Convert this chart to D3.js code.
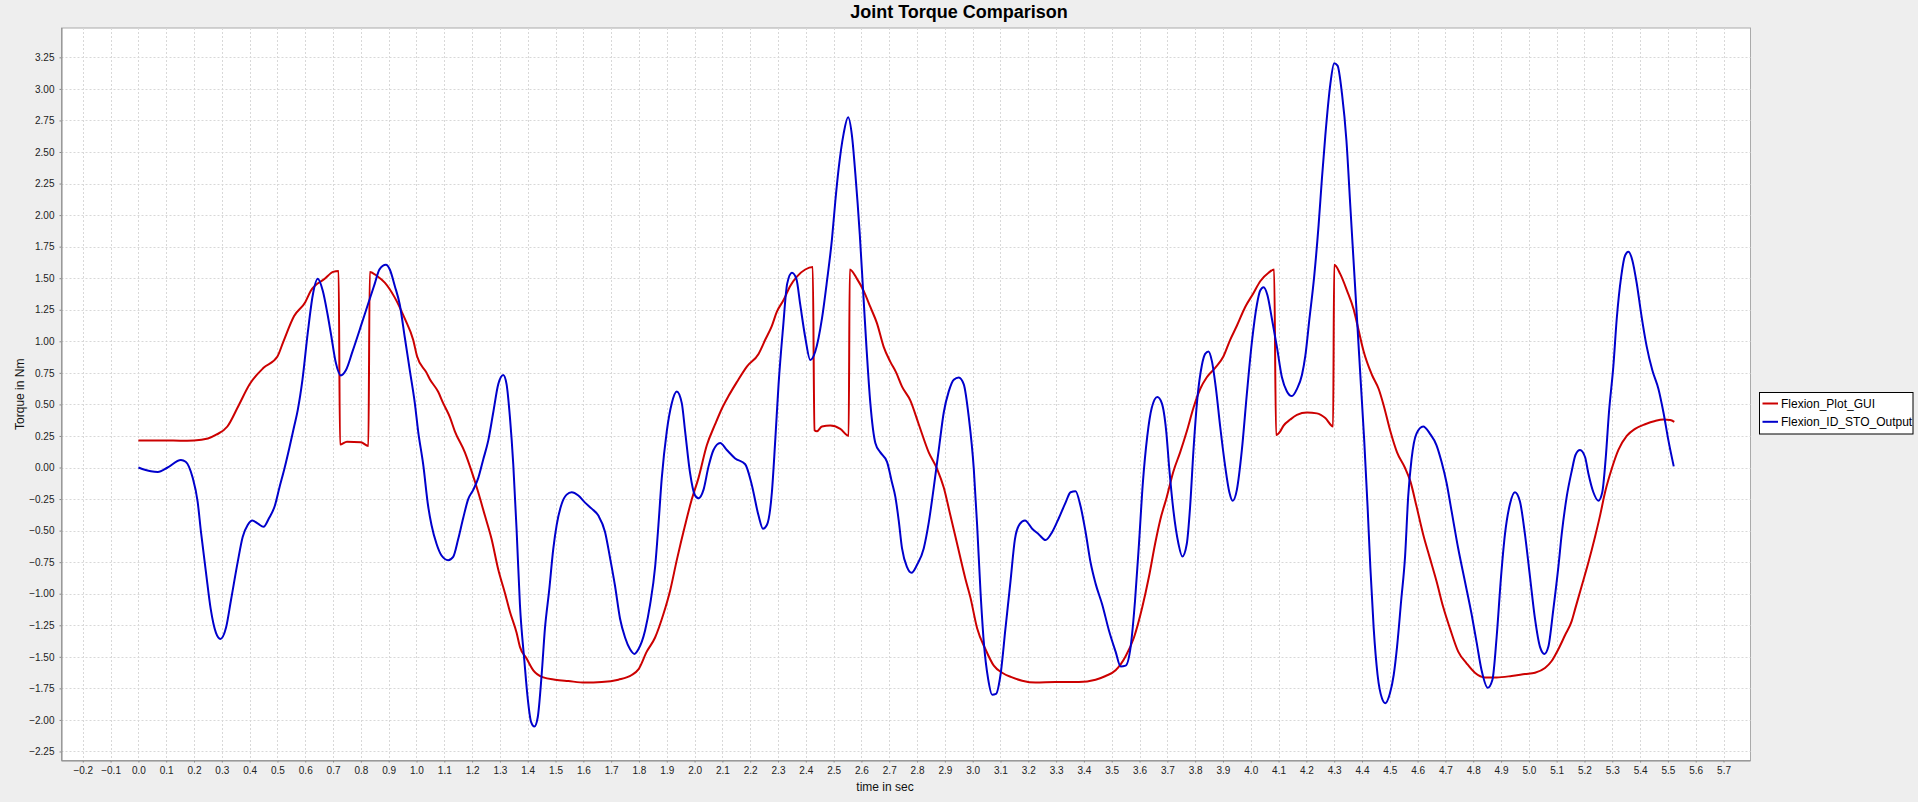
<!DOCTYPE html>
<html>
<head>
<meta charset="utf-8">
<script src="https://cdn.jsdelivr.net/npm/d3@7"></script>
<style>
html,body{margin:0;padding:0;background:#eeeeee;}
svg{display:block;font-family:"Liberation Sans",Arial,sans-serif;}
</style>
</head>
<body>
<svg id="chart" width="1918" height="802"></svg>
<script>
const chartTitle = "Joint Torque Comparison";
const xAxisLabel = "time in sec";
const yAxisLabel = "Torque in Nm";
const seriesNames = ["Flexion_Plot_GUI", "Flexion_ID_STO_Output"];
const seriesColors = ["#cc0000", "#0000cc"];
const xTickValues = d3.range(-2, 58).map(i => i / 10);
const yTickValues = d3.range(-9, 14).map(i => i / 4);

// Flexion_Plot_GUI: [time, torque]
const flexionPlotGui = [
[0.0,0.215],[0.05,0.215],[0.10,0.215],[0.15,0.213],[0.20,0.215],[0.25,0.23],[0.28,0.26],[0.32,0.325],
[0.36,0.49],[0.40,0.66],[0.45,0.79],[0.50,0.88],[0.52,0.99],[0.56,1.20],[0.60,1.31],[0.62,1.40],
[0.67,1.495],[0.70,1.55],[0.72,1.558],[0.725,0.183],[0.75,0.205],[0.80,0.20],[0.827,0.17],[0.832,1.55],
[0.86,1.514],[0.886,1.465],[0.922,1.346],[0.958,1.179],[0.988,1.012],[1.002,0.882],[1.036,0.752],[1.048,0.70],
[1.078,0.60],[1.096,0.51],[1.12,0.399],[1.138,0.287],[1.174,0.12],[1.198,-0.029],[1.222,-0.196],[1.246,-0.381],
[1.27,-0.567],[1.294,-0.808],[1.318,-0.994],[1.336,-1.143],[1.36,-1.31],[1.372,-1.421],[1.396,-1.514],[1.42,-1.607],
[1.456,-1.663],[1.498,-1.681],[1.546,-1.692],[1.606,-1.704],[1.666,-1.70],[1.726,-1.681],[1.774,-1.644],[1.798,-1.60],
[1.828,-1.459],[1.858,-1.347],[1.888,-1.161],[1.912,-0.976],[1.936,-0.734],[1.966,-0.456],[1.99,-0.251],[2.014,-0.084],
[2.044,0.176],[2.074,0.343],[2.098,0.466],[2.122,0.566],[2.152,0.677],[2.188,0.80],[2.23,0.90],[2.254,1.012],
[2.278,1.123],[2.296,1.235],[2.32,1.327],[2.344,1.439],[2.368,1.513],[2.398,1.569],[2.425,1.588],[2.431,0.295],
[2.44,0.287],[2.458,0.325],[2.488,0.332],[2.524,0.306],[2.554,0.25],[2.558,1.569],[2.584,1.495],[2.608,1.40],
[2.632,1.272],[2.656,1.142],[2.68,0.956],[2.704,0.837],[2.725,0.752],[2.746,0.641],[2.776,0.53],[2.806,0.343],
[2.842,0.12],[2.872,-0.01],[2.896,-0.159],[2.92,-0.381],[2.944,-0.604],[2.974,-0.883],[2.992,-1.031],[3.016,-1.273],
[3.046,-1.44],[3.076,-1.57],[3.106,-1.626],[3.142,-1.663],[3.178,-1.689],[3.226,-1.704],[3.298,-1.70],[3.382,-1.70],
[3.442,-1.681],[3.478,-1.652],[3.514,-1.607],[3.55,-1.496],[3.58,-1.347],[3.61,-1.106],[3.634,-0.864],[3.656,-0.604],
[3.674,-0.419],[3.698,-0.233],[3.722,-0.029],[3.746,0.12],[3.77,0.287],[3.794,0.473],[3.818,0.622],[3.842,0.715],
[3.872,0.789],[3.902,0.882],[3.926,1.012],[3.95,1.123],[3.98,1.272],[4.01,1.383],[4.034,1.476],[4.064,1.543],
[4.084,1.569],[4.091,0.258],[4.106,0.287],[4.118,0.332],[4.142,0.38],[4.166,0.417],[4.202,0.436],[4.238,0.429],
[4.268,0.392],[4.296,0.325],[4.30,1.606],[4.322,1.532],[4.346,1.402],[4.37,1.253],[4.388,1.086],[4.406,0.919],
[4.436,0.733],[4.46,0.622],[4.478,0.492],[4.502,0.287],[4.526,0.12],[4.554,0.0],[4.574,-0.11],[4.596,-0.307],
[4.62,-0.53],[4.644,-0.716],[4.668,-0.901],[4.692,-1.106],[4.716,-1.273],[4.746,-1.459],[4.776,-1.551],[4.806,-1.626],
[4.842,-1.663],[4.884,-1.663],[4.938,-1.652],[4.986,-1.637],[5.022,-1.626],[5.058,-1.589],[5.082,-1.533],[5.106,-1.44],
[5.13,-1.329],[5.154,-1.217],[5.166,-1.124],[5.19,-0.939],[5.214,-0.753],[5.238,-0.548],[5.256,-0.381],[5.274,-0.196],
[5.298,-0.01],[5.322,0.139],[5.352,0.25],[5.382,0.306],[5.418,0.343],[5.454,0.369],[5.484,0.38],[5.508,0.377],[5.523,0.362]
];

// Flexion_ID_STO_Output: [time, torque]
const flexionIdStoOutput = [
[0.0,0.0],[0.045,-0.03],[0.07,-0.035],[0.105,0.0],[0.153,0.06],[0.17,0.046],[0.195,-0.08],[0.213,-0.27],
[0.225,-0.51],[0.243,-0.83],[0.26,-1.12],[0.279,-1.31],[0.295,-1.358],[0.315,-1.27],[0.333,-1.05],[0.357,-0.75],
[0.375,-0.55],[0.393,-0.456],[0.41,-0.42],[0.43,-0.445],[0.45,-0.47],[0.47,-0.40],[0.49,-0.307],[0.507,-0.16],
[0.525,-0.01],[0.543,0.157],[0.56,0.325],[0.573,0.455],[0.59,0.696],[0.609,1.067],[0.627,1.365],[0.645,1.495],
[0.663,1.40],[0.68,1.216],[0.693,1.05],[0.71,0.83],[0.728,0.73],[0.746,0.77],[0.77,0.92],[0.80,1.12],
[0.825,1.29],[0.85,1.457],[0.867,1.57],[0.89,1.606],[0.904,1.569],[0.922,1.439],[0.94,1.29],[0.958,1.03],
[0.976,0.77],[0.994,0.51],[1.006,0.287],[1.024,0.026],[1.042,-0.307],[1.054,-0.456],[1.072,-0.604],[1.09,-0.697],
[1.114,-0.734],[1.132,-0.708],[1.15,-0.567],[1.168,-0.40],[1.186,-0.251],[1.204,-0.177],[1.222,-0.084],[1.24,0.064],
[1.258,0.213],[1.276,0.436],[1.294,0.659],[1.312,0.733],[1.324,0.659],[1.336,0.399],[1.348,0.026],[1.36,-0.493],
[1.372,-1.087],[1.388,-1.533],[1.40,-1.83],[1.412,-2.016],[1.424,-2.053],[1.436,-1.979],[1.45,-1.644],[1.462,-1.273],
[1.477,-0.976],[1.492,-0.642],[1.504,-0.456],[1.522,-0.289],[1.54,-0.215],[1.558,-0.196],[1.582,-0.222],[1.606,-0.278],
[1.63,-0.326],[1.654,-0.381],[1.678,-0.511],[1.696,-0.716],[1.714,-0.939],[1.732,-1.198],[1.75,-1.347],[1.768,-1.44],
[1.784,-1.477],[1.798,-1.44],[1.822,-1.291],[1.84,-1.087],[1.858,-0.79],[1.87,-0.456],[1.882,-0.084],[1.90,0.287],
[1.918,0.51],[1.936,0.603],[1.954,0.51],[1.966,0.287],[1.984,-0.047],[2.0,-0.214],[2.014,-0.244],[2.032,-0.177],
[2.05,0.007],[2.068,0.139],[2.092,0.195],[2.116,0.139],[2.146,0.072],[2.182,0.026],[2.206,-0.14],[2.23,-0.381],
[2.246,-0.485],[2.26,-0.456],[2.278,-0.196],[2.29,0.213],[2.302,0.659],[2.318,1.104],[2.333,1.457],[2.35,1.543],
[2.366,1.495],[2.38,1.29],[2.398,1.03],[2.416,0.852],[2.434,0.919],[2.458,1.179],[2.476,1.476],[2.494,1.81],
[2.506,2.108],[2.518,2.368],[2.536,2.646],[2.552,2.776],[2.566,2.628],[2.578,2.33],[2.594,1.848],[2.606,1.402],
[2.618,0.956],[2.632,0.51],[2.65,0.195],[2.668,0.12],[2.692,0.045],[2.71,-0.121],[2.722,-0.233],[2.734,-0.419],
[2.746,-0.641],[2.764,-0.79],[2.78,-0.834],[2.80,-0.771],[2.824,-0.641],[2.842,-0.437],[2.86,-0.159],[2.878,0.139],
[2.896,0.436],[2.914,0.603],[2.932,0.696],[2.95,0.714],[2.968,0.659],[2.986,0.399],[3.004,-0.01],[3.016,-0.456],
[3.028,-0.976],[3.04,-1.384],[3.056,-1.681],[3.07,-1.80],[3.084,-1.793],[3.10,-1.644],[3.118,-1.273],[3.136,-0.902],
[3.152,-0.567],[3.169,-0.448],[3.188,-0.419],[3.214,-0.485],[3.238,-0.53],[3.262,-0.575],[3.286,-0.511],[3.31,-0.40],
[3.334,-0.278],[3.352,-0.196],[3.37,-0.188],[3.388,-0.307],[3.406,-0.511],[3.424,-0.753],[3.442,-0.92],[3.466,-1.087],
[3.49,-1.291],[3.514,-1.459],[3.532,-1.577],[3.55,-1.57],[3.568,-1.421],[3.584,-1.05],[3.598,-0.604],[3.612,-0.121],
[3.628,0.25],[3.644,0.473],[3.664,0.558],[3.68,0.51],[3.696,0.287],[3.707,-0.01],[3.722,-0.344],[3.74,-0.604],
[3.754,-0.705],[3.77,-0.604],[3.782,-0.307],[3.794,0.139],[3.808,0.547],[3.824,0.808],[3.836,0.90],[3.848,0.919],
[3.86,0.845],[3.875,0.622],[3.89,0.325],[3.908,0.009],[3.923,-0.196],[3.935,-0.263],[3.95,-0.177],[3.968,0.139],
[3.986,0.585],[4.004,0.993],[4.022,1.29],[4.034,1.402],[4.046,1.428],[4.06,1.365],[4.076,1.179],[4.094,0.956],
[4.112,0.715],[4.13,0.603],[4.148,0.566],[4.166,0.622],[4.184,0.733],[4.196,0.882],[4.211,1.179],[4.228,1.513],
[4.244,1.922],[4.256,2.293],[4.268,2.628],[4.286,3.036],[4.30,3.203],[4.312,3.185],[4.328,2.962],[4.344,2.591],
[4.358,2.07],[4.372,1.55],[4.384,1.104],[4.396,0.659],[4.408,0.213],[4.42,-0.307],[4.43,-0.79],[4.442,-1.273],
[4.456,-1.644],[4.472,-1.83],[4.484,-1.867],[4.50,-1.793],[4.514,-1.644],[4.526,-1.421],[4.541,-1.05],[4.555,-0.7],
[4.566,-0.233],[4.578,0.064],[4.596,0.269],[4.62,0.325],[4.644,0.269],[4.668,0.176],[4.686,0.045],[4.704,-0.121],
[4.722,-0.344],[4.746,-0.642],[4.77,-0.901],[4.794,-1.161],[4.812,-1.384],[4.83,-1.607],[4.852,-1.745],[4.869,-1.681],
[4.884,-1.347],[4.90,-0.864],[4.914,-0.53],[4.932,-0.289],[4.95,-0.196],[4.968,-0.27],[4.986,-0.53],[5.004,-0.864],
[5.022,-1.198],[5.04,-1.421],[5.056,-1.477],[5.07,-1.421],[5.088,-1.124],[5.106,-0.79],[5.118,-0.53],[5.136,-0.233],
[5.154,-0.029],[5.168,0.101],[5.184,0.139],[5.202,0.083],[5.214,-0.047],[5.232,-0.196],[5.25,-0.263],[5.264,-0.196],
[5.276,0.064],[5.288,0.436],[5.304,0.807],[5.316,1.179],[5.332,1.513],[5.346,1.68],[5.358,1.71],[5.372,1.643],
[5.388,1.458],[5.404,1.216],[5.424,0.956],[5.444,0.77],[5.466,0.622],[5.484,0.436],[5.502,0.213],[5.521,0.009]
];

const W = 1918, H = 802;
const plot = {left: 61.5, top: 28, right: 1750.5, bottom: 760.5};
const svg = d3.select("#chart");

const x = d3.scaleLinear().domain([-0.2765, 5.797]).range([plot.left, plot.right]);
const y = d3.scaleLinear().domain([-2.3215, 3.4825]).range([plot.bottom, plot.top]);

svg.append("rect").attr("width", W).attr("height", H).attr("fill", "#eeeeee");
svg.append("rect").attr("x", plot.left).attr("y", plot.top)
  .attr("width", plot.right - plot.left).attr("height", plot.bottom - plot.top)
  .attr("fill", "#ffffff").attr("stroke", "#aaaaaa").attr("stroke-width", 1);

// gridlines
const grid = svg.append("g");
grid.selectAll("line.gx").data(xTickValues).enter().append("line")
  .attr("x1", d => Math.round(x(d)) + 0.5).attr("x2", d => Math.round(x(d)) + 0.5)
  .attr("y1", plot.top).attr("y2", plot.bottom)
  .attr("stroke", "#d8d8d8").attr("stroke-width", 1).attr("stroke-dasharray", "2,2");
grid.selectAll("line.gy").data(yTickValues).enter().append("line")
  .attr("y1", d => Math.round(y(d)) + 0.5).attr("y2", d => Math.round(y(d)) + 0.5)
  .attr("x1", plot.left).attr("x2", plot.right)
  .attr("stroke", "#d8d8d8").attr("stroke-width", 1).attr("stroke-dasharray", "2,2");

// axes
const xAxis = d3.axisBottom(x).tickValues(xTickValues).tickSize(2).tickPadding(4)
  .tickFormat(d3.format(".1f"));
const gx = svg.append("g").attr("transform", `translate(0,${plot.bottom})`).call(xAxis);
const yAxis = d3.axisLeft(y).tickValues(yTickValues).tickSize(2).tickPadding(5)
  .tickFormat(d3.format(".2f"));
const gy = svg.append("g").attr("transform", `translate(${plot.left},0)`).call(yAxis);
[gx, gy].forEach(g => {
  g.select(".domain").attr("stroke", "#888888");
  g.selectAll(".tick line").attr("stroke", "#888888");
  g.selectAll(".tick text").attr("fill", "#222222")
    .style("font-family", '"Liberation Sans", Arial, sans-serif').style("font-size", "10px");
});
gx.select(".domain").attr("d", `M${plot.left},0.5H${plot.right}`);
gy.select(".domain").attr("d", `M0.5,${plot.top}V${plot.bottom}`);

// lines
const line = d3.line().x(d => x(d[0])).y(d => y(d[1])).curve(d3.curveMonotoneX);
svg.append("clipPath").attr("id", "clip").append("rect")
  .attr("x", plot.left).attr("y", plot.top)
  .attr("width", plot.right - plot.left).attr("height", plot.bottom - plot.top);
const seriesData = [flexionPlotGui, flexionIdStoOutput];
svg.append("g").attr("clip-path", "url(#clip)")
  .selectAll("path").data(seriesData).enter().append("path")
  .attr("d", line).attr("fill", "none")
  .attr("stroke", (d, i) => seriesColors[i]).attr("stroke-width", 2)
  .attr("stroke-linejoin", "round");

// title
svg.append("text").attr("x", W / 2).attr("y", 18).attr("text-anchor", "middle")
  .style("font-size", "18px").style("font-weight", "bold").attr("fill", "#000")
  .text(chartTitle);

// axis labels
svg.append("text").attr("x", 885).attr("y", 791)
  .attr("text-anchor", "middle").style("font-size", "12px").attr("fill", "#111")
  .text(xAxisLabel);
svg.append("text").attr("transform", `translate(24,${(plot.top + plot.bottom) / 2}) rotate(-90)`)
  .attr("text-anchor", "middle").style("font-size", "12px").attr("fill", "#111")
  .text(yAxisLabel);

// legend
const lg = svg.append("g");
lg.append("rect").attr("x", 1759.5).attr("y", 392.5).attr("width", 153.5).attr("height", 41.5)
  .attr("fill", "#ffffff").attr("stroke", "#000").attr("stroke-width", 1);
seriesNames.forEach((name, i) => {
  const cy = 403.5 + i * 18.3;
  lg.append("line").attr("x1", 1762.5).attr("x2", 1778).attr("y1", cy).attr("y2", cy)
    .attr("stroke", seriesColors[i]).attr("stroke-width", 2);
  lg.append("text").attr("x", 1781).attr("y", cy + 4.3)
    .style("font-size", "12px").attr("fill", "#000").text(name);
});
</script>
</body>
</html>
